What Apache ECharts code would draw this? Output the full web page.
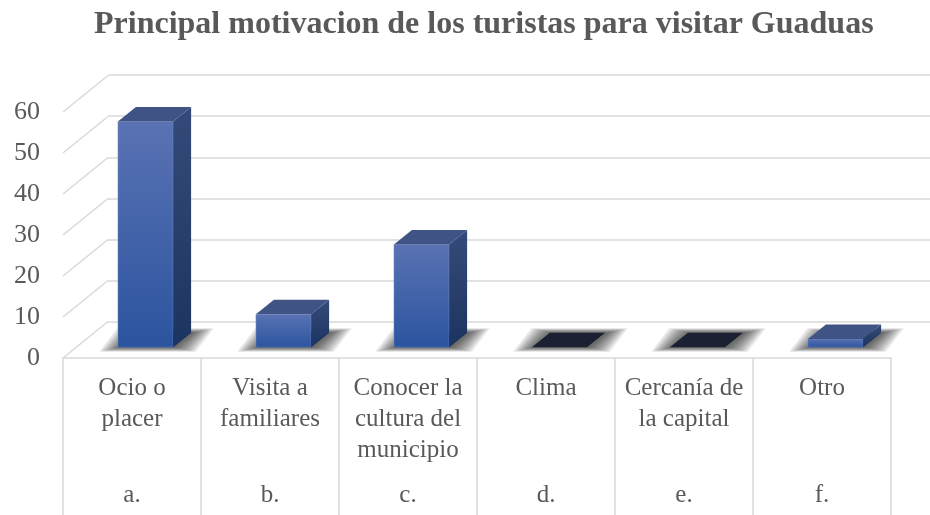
<!DOCTYPE html>
<html>
<head>
<meta charset="utf-8">
<script src="https://cdn.jsdelivr.net/npm/echarts@6/dist/echarts.min.js"></script>
<style>
html,body{margin:0;padding:0;background:#fff;}
#chart{width:930px;height:515px;}
</style>
</head>
<body>
<div id="chart"></div>
<script>
const titleText = 'Principal motivacion de los turistas para visitar Guaduas';
const categories = ['Ocio o\nplacer', 'Visita a\nfamiliares', 'Conocer la\ncultura del\nmunicipio', 'Clima', 'Cercanía de\nla capital', 'Otro'];
const letters = ['a.', 'b.', 'c.', 'd.', 'e.', 'f.'];
const values = [55, 8, 25, 0, 0, 2];
const yTicks = [0, 10, 20, 30, 40, 50, 60];

const FONT = "'Liberation Serif', 'Times New Roman', serif";
const TEXT = '#595959';
const GRID_LINE = '#d9d9d9';
// perspective offsets (pixels)
const WALL_DX = 45, WALL_DY = -36.5;
const BAR_DX = 18, BAR_DY = -14.5;

const chart = echarts.init(document.getElementById('chart'), null, {renderer: 'canvas'});

const option = {
  animation: false,
  backgroundColor: '#fff',
  title: {
    text: titleText,
    left: 89,
    top: 4,
    textStyle: {fontFamily: FONT, fontSize: 32, fontWeight: 'bold', color: TEXT}
  },
  grid: [
    {left: 63, width: 828, top: 112, height: 246},      // front plane
    {left: 108, width: 828, top: 75, height: 247},      // back wall
    {left: 76.5, width: 828, top: 101, height: 246.2}   // bar plane
  ],
  xAxis: [
    {
      gridIndex: 0, type: 'category', data: categories, position: 'bottom',
      axisLine: {show: true, lineStyle: {color: GRID_LINE, width: 1.5}},
      axisTick: {show: true, interval: 0, length: 160, lineStyle: {color: GRID_LINE, width: 1.5}},
      axisLabel: {interval: 0, margin: 15, fontFamily: FONT, fontSize: 25, lineHeight: 31, color: TEXT, verticalAlign: 'top'},
      splitLine: {show: false}
    },
    {
      gridIndex: 0, type: 'category', data: letters, position: 'bottom',
      axisLine: {show: false}, axisTick: {show: false},
      axisLabel: {interval: 0, margin: 122, fontFamily: FONT, fontSize: 25, lineHeight: 31, color: TEXT, verticalAlign: 'top'},
      splitLine: {show: false}
    },
    {gridIndex: 1, type: 'category', data: categories, show: false},
    {gridIndex: 2, type: 'category', data: categories, show: false}
  ],
  yAxis: [
    {
      gridIndex: 0, type: 'value', min: 0, max: 60, interval: 10,
      axisLine: {show: false}, axisTick: {show: false}, splitLine: {show: false},
      axisLabel: {margin: 23, fontFamily: FONT, fontSize: 26, color: TEXT}
    },
    {
      gridIndex: 1, type: 'value', min: 0, max: 60, interval: 10,
      axisLine: {show: false}, axisTick: {show: false}, axisLabel: {show: false},
      splitLine: {show: true, lineStyle: {color: GRID_LINE, width: 1.5}}
    },
    {gridIndex: 2, type: 'value', min: 0, max: 60, interval: 10, show: false, splitLine: {show: false}}
  ],
  series: [
    {
      // diagonal side-wall lines joining the front axis to the back wall grid lines
      type: 'custom', xAxisIndex: 0, yAxisIndex: 0, silent: true, clip: false,
      data: yTicks.map(v => [0, v]),
      renderItem: function (params, api) {
        const p = api.coord([0, api.value(1)]);
        const left = p[0] - api.size([1, 0])[0] / 2;
        return {
          type: 'line',
          shape: {x1: left, y1: p[1], x2: left + WALL_DX, y2: p[1] + WALL_DY},
          style: {stroke: GRID_LINE, lineWidth: 1.5}
        };
      }
    },
    {
      type: 'custom', xAxisIndex: 3, yAxisIndex: 2, silent: true, clip: false,
      data: values.map((v, i) => [i, v]),
      renderItem: function (params, api) {
        const i = api.value(0), v = api.value(1);
        const base = api.coord([i, 0]);
        const top = api.coord([i, v]);
        const w = api.size([1, 0])[0] * 0.4;
        const x0 = base[0] - w / 2, x1 = base[0] + w / 2;
        const yb = base[1], yt = top[1];
        const foot = [[x0, yb], [x1, yb], [x1 + BAR_DX, yb + BAR_DY], [x0 + BAR_DX, yb + BAR_DY]];
        const children = [];
        // soft floor shadow built from stacked translucent layers
        for (let k = 9; k >= 1; k--) {
          const ex = 2.3 * k, ey = 0.5 * k;
          children.push({
            type: 'polygon',
            shape: {points: [
              [x0 - ex + 2, yb + ey], [x1 + ex + 2, yb + ey],
              [x1 + BAR_DX + ex + 2, yb + BAR_DY - ey], [x0 + BAR_DX - ex + 2, yb + BAR_DY - ey]
            ]},
            style: {fill: 'rgba(0,0,0,0.085)'}
          });
        }
        children.push({
          type: 'polygon', shape: {points: foot},
          style: {fill: '#1b2133'}
        });
        if (v > 0) {
          children.push({
            type: 'rect',
            shape: {x: x0, y: yt, width: w, height: yb - yt},
            style: {
              fill: new echarts.graphic.LinearGradient(0, 0, 0, 1, [
                {offset: 0, color: '#5a72b3'}, {offset: 1, color: '#2b549f'}
              ]),
              stroke: 'rgba(140,160,210,0.5)', lineWidth: 0.8
            }
          });
          children.push({
            type: 'polygon',
            shape: {points: [[x1, yt], [x1 + BAR_DX, yt + BAR_DY], [x1 + BAR_DX, yb + BAR_DY], [x1, yb]]},
            style: {
              fill: new echarts.graphic.LinearGradient(0, 0, 0, 1, [
                {offset: 0, color: '#354a78'}, {offset: 1, color: '#1c3461'}
              ])
            }
          });
          children.push({
            type: 'polygon',
            shape: {points: [[x0, yt], [x1, yt], [x1 + BAR_DX, yt + BAR_DY], [x0 + BAR_DX, yt + BAR_DY]]},
            style: {fill: '#3f5385'}
          });
        }
        return {type: 'group', children: children};
      }
    }
  ]
};
chart.setOption(option);
</script>
</body>
</html>
